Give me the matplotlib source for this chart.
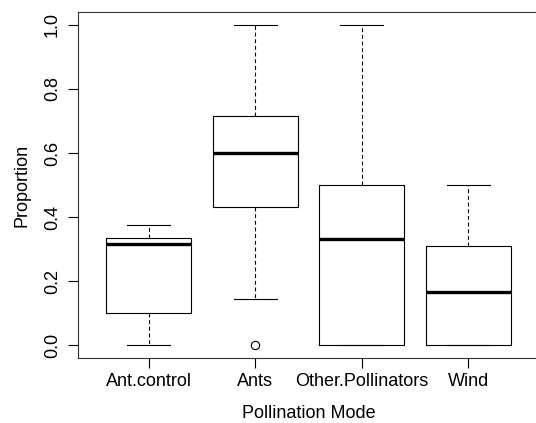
import matplotlib
matplotlib.use('Agg')
import matplotlib.pyplot as plt

# ── Data ─────────────────────────────────────────────────────────────────────
categories = ['Ant.control', 'Ants', 'Other.Pollinators', 'Wind']
whislo = [0.0, 0.143, 0.0, 0.0]
q1     = [0.1, 0.43, 0.0, 0.0]
med    = [0.317, 0.6, 0.333, 0.167]
q3     = [0.335, 0.714, 0.5, 0.31]
whishi = [0.375, 1.0, 1.0, 0.5]
fliers = [[], [0.0], [], []]
yticks = [0.0, 0.2, 0.4, 0.6, 0.8, 1.0]

plt.rcParams['font.family'] = ['Liberation Sans', 'DejaVu Sans']

stats = [dict(label=c, whislo=a, q1=b, med=m, q3=d, whishi=e, fliers=f)
         for c, a, b, m, d, e, f in zip(categories, whislo, q1, med, q3, whishi, fliers)]

# ── Figure ────────────────────────────────────────────────────────────────────
fig = plt.figure(figsize=(5.36, 4.23), dpi=100)
W, H = 536, 423
left, right, top, bottom = 78.4, 538.6, 11.9, 358.1
ax = fig.add_axes([left / W, 1 - bottom / H, (right - left) / W, (bottom - top) / H])

lw = 0.8
ax.bxp(stats, positions=range(1, 5), widths=0.8, showfliers=True,
       boxprops=dict(color='black', linewidth=lw),
       medianprops=dict(color='black', linewidth=2.4, solid_capstyle='butt'),
       whiskerprops=dict(color='black', linewidth=lw, linestyle=(0, (3.5, 2.5))),
       capprops=dict(color='black', linewidth=lw),
       capwidths=0.4,
       flierprops=dict(marker='o', markersize=6, markerfacecolor='none',
                       markeredgecolor='black', markeredgewidth=lw))

ax.set_xlim(0.34, 4.66)
ax.set_ylim(-0.04, 1.04)
ax.set_yticks(yticks)
ax.set_yticklabels([f'{v:.1f}' for v in yticks], rotation=90, va='center')
ax.set_xticks(range(1, 5))
ax.set_xticklabels(categories)

for s in ax.spines.values():
    s.set_linewidth(lw)
    s.set_color('#333333')
ax.spines['right'].set_visible(False)  # cut off in the original
ax.tick_params(axis='both', direction='out', length=7.5, width=lw, colors='black',
               labelsize=13)
ax.tick_params(axis='y', pad=5)
ax.tick_params(axis='x', pad=3)

ax.set_ylabel('Proportion', fontsize=13, labelpad=10)
ax.set_xlabel('Pollination Mode', fontsize=13, labelpad=11)

plt.savefig('out.png', dpi=100)
